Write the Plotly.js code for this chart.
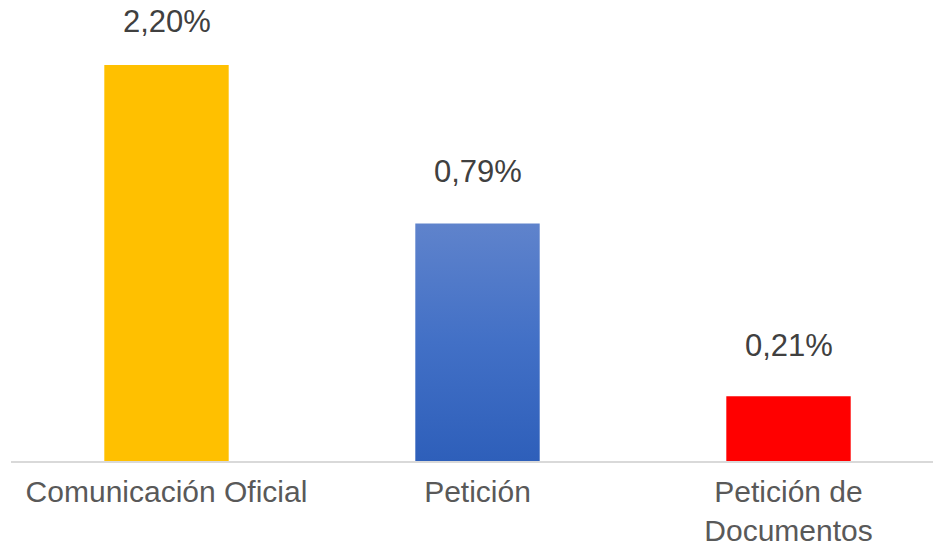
<!DOCTYPE html>
<html>
<head>
<meta charset="utf-8">
<script src="https://cdn.plot.ly/plotly-3.0.1.min.js"></script>
<style>
html, body { margin: 0; padding: 0; background: #ffffff; }
#chart { width: 933px; height: 550px; }
</style>
</head>
<body>
<div id="chart"></div>
<script>
// Data
var categories = ["Comunicación Oficial", "Petición", "Petición de<br>Documentos"];
var values = [2.20, 0.79, 0.21];            // shown data labels (%)
var barHeights = [2.20, 1.32, 0.36];        // bar lengths as drawn in the picture
var labelText = ["2,20%", "0,79%", "0,21%"];

var positions = categories.map(function (c, i) { return i; });
var barColors = ["#FFC000", "rgba(0,0,0,0)", "#FF0000"];
var barWidth = 0.4;

var traces = [];
traces.push({
  type: "bar",
  x: positions,
  y: barHeights,
  width: barWidth,
  marker: { color: barColors, line: { width: 0 } },
  hoverinfo: "skip",
  showlegend: false
});

// gradient fill for the blue bar (Petición), built from its data
var gi = 1;
var gx0 = positions[gi] - barWidth / 2, gx1 = positions[gi] + barWidth / 2;
traces.push({
  type: "scatter",
  mode: "lines",
  x: [gx0, gx1, gx1, gx0, gx0],
  y: [0, 0, barHeights[gi], barHeights[gi], 0],
  fill: "toself",
  line: { width: 0, color: "rgba(0,0,0,0)" },
  fillcolor: "#4472C4",
  fillgradient: {
    type: "vertical",
    colorscale: [[0, "#2E5FBA"], [0.5, "#4270C6"], [1, "#5F83CC"]]
  },
  hoverinfo: "skip",
  showlegend: false
});

var labelShift = [43, 52, 51];
var annotations = positions.map(function (p, i) {
  return {
    x: p, y: barHeights[i], xref: "x", yref: "y",
    text: labelText[i], showarrow: false,
    yanchor: "middle", yshift: labelShift[i],
    font: { family: "Liberation Sans, Arial, sans-serif", size: 31, color: "#404040" }
  };
});

var layout = {
  width: 933, height: 550,
  margin: { l: 11, r: 0, t: 0, b: 89, pad: 0 },
  paper_bgcolor: "#ffffff", plot_bgcolor: "#ffffff",
  xaxis: {
    type: "linear",
    range: [-0.5, 2.4646],
    tickvals: positions, ticktext: categories,
    showgrid: false, zeroline: false,
    showline: true, linecolor: "#D9D9D9", linewidth: 2,
    ticks: "", ticklen: 0,
    ticklabelstandoff: 3,
    tickfont: { family: "Liberation Sans, Arial, sans-serif", size: 30, color: "#595959" },
    fixedrange: true
  },
  yaxis: {
    range: [0, 2.561],
    visible: false, showgrid: false, zeroline: false,
    fixedrange: true
  },
  annotations: annotations,
  showlegend: false
};

Plotly.newPlot("chart", traces, layout, { displayModeBar: false, staticPlot: true });
</script>
</body>
</html>
